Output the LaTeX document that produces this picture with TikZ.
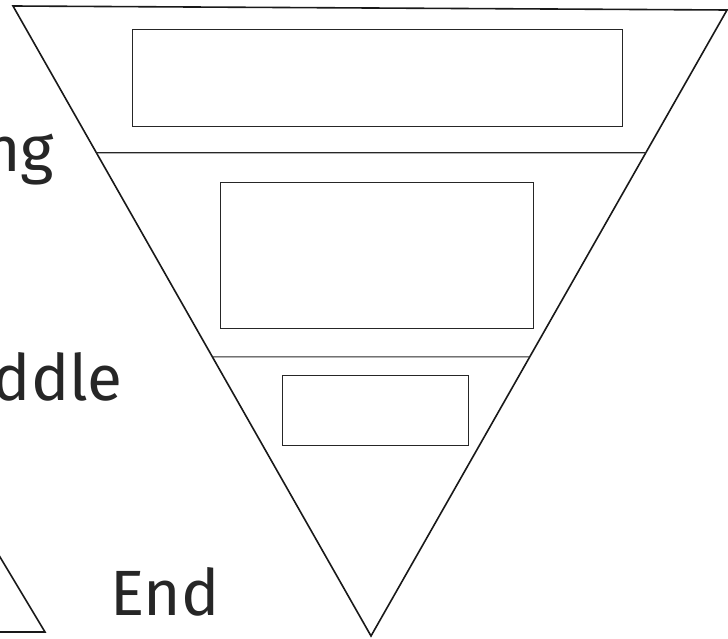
\documentclass[tikz,border=0pt]{standalone}
\usepackage{fontspec}
\setmainfont{Fira Sans}
\usetikzlibrary{calc}

\begin{document}
\begin{tikzpicture}[
    x=1pt, y=-1pt,
    edge/.style={draw=black!90, line width=1.6pt, line join=miter},
    divider/.style={draw=black!85, line width=1.1pt},
    panel/.style={draw=black!85, line width=1pt, inner sep=0pt},
    word/.style={font=\fontsize{64}{72}\selectfont, text=black!85, inner sep=0pt}
  ]
    \useasboundingbox (0,0) rectangle (728,639);
    \clip (0,0) rectangle (728,639);

    % corners of the big funnel
    \coordinate (tl) at (13,6);
    \coordinate (tr) at (727,10);
    \coordinate (apex) at (371,636);
    \draw[edge] (tl) -- (tr) -- (apex) -- cycle;

    % section lines
    \coordinate (l1) at ($(tl)!0.233!(apex)$);
    \coordinate (r1) at ($(tr)!0.228!(apex)$);
    \coordinate (l2) at ($(tl)!0.557!(apex)$);
    \coordinate (r2) at ($(tr)!0.554!(apex)$);
    \draw[divider] (l1) -- (r1);
    \draw[divider] (l2) -- (r2);

    % empty boxes
    \node[panel, minimum width=490pt, minimum height=97pt] (beginbox) at (377,78.5) {};
    \node[panel, minimum width=313pt, minimum height=145pt] (middlebox) at (376.5,255.5) {};
    \node[panel, minimum width=186pt, minimum height=70pt] (endbox) at (375,410) {};

    % labels
    \node[word, anchor=base east] (beginning) at (54,172) {Beginning};
    \node[word, anchor=base east] (middle) at (123,400) {Middle};
    \node[word, anchor=base west] (end) at (110,615) {End};

    % neighbouring shape, cut off
    \coordinate (sp) at (45,632);
    \draw[edge] (-30,507) -- (sp) -- (-60,632);
  \end{tikzpicture}
\end{document}
